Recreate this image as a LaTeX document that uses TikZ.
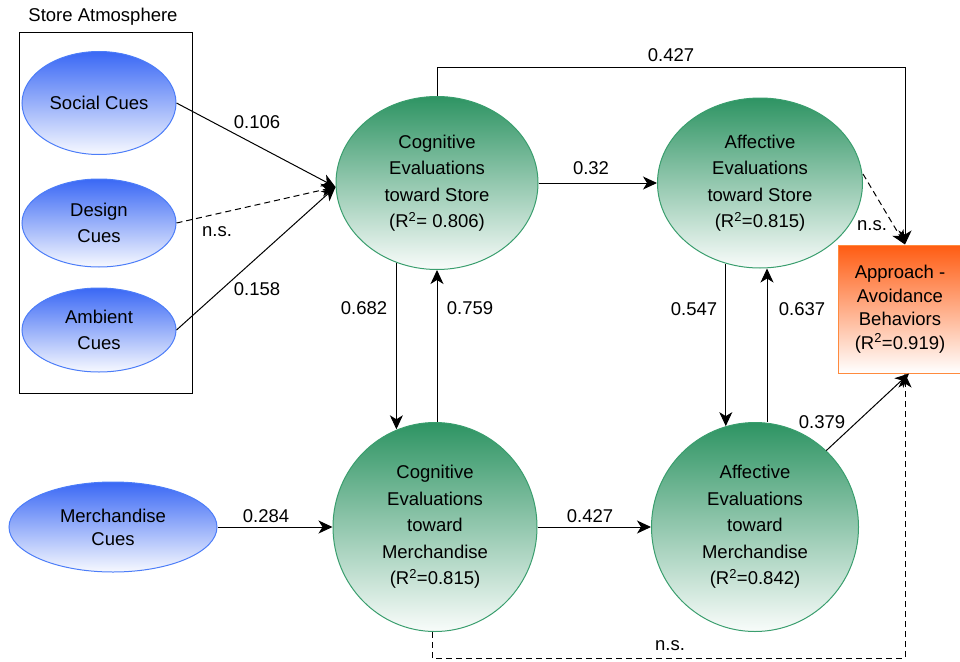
\documentclass[tikz,border=0pt]{standalone}
\usepackage{fontspec}
\setmainfont{Liberation Sans}
\usepackage{tikz}
\usetikzlibrary{positioning,shapes.geometric,arrows.meta}
\definecolor{CueBlue}{HTML}{3A68F5}
\definecolor{CueEdge}{HTML}{4C7DF8}
\definecolor{EvalGreen}{HTML}{2E9463}
\definecolor{EvalEdge}{HTML}{3A9E6E}
\definecolor{OutOrange}{HTML}{FF5C12}
\definecolor{OutEdge}{HTML}{FF8A3D}

\begin{document}
\begin{tikzpicture}[
  x=1pt,y=-1pt,
  txt/.style={font=\fontsize{18.5}{26.5}\selectfont,align=center,inner sep=0pt},
  cue/.style={txt,ellipse,draw=CueEdge,line width=1pt,top color=CueBlue,bottom color=CueBlue!4},
  eval/.style={txt,ellipse,draw=EvalEdge,line width=1pt,top color=EvalGreen,bottom color=EvalGreen!3},
  outcome/.style={txt,rectangle,draw=OutEdge,line width=1pt,top color=OutOrange,bottom color=white,
    font=\fontsize{18.5}{23.5}\selectfont},
  grp/.style={draw=black,line width=1pt,inner sep=0pt},
  lbl/.style={font=\fontsize{18.5}{22}\selectfont,inner sep=0pt},
  arr/.style={-{Stealth[length=14pt,width=13pt,inset=4pt]},line width=1pt},
  dasharr/.style={arr,dash pattern=on 6pt off 4pt}
]
  \useasboundingbox (0,0) rectangle (960,661);
  % store atmosphere group
  \node[grp,minimum width=173pt,minimum height=360pt] (atmos) at (105.5,213) {};
  \node[lbl] (atmostitle) at (103,17) {Store Atmosphere};
  \node[cue,minimum width=154pt,minimum height=103pt] (social) at (99,103) {Social Cues};
  \node[cue,minimum width=154pt,minimum height=88pt] (design) at (99,223) {Design\\Cues};
  \node[cue,minimum width=154pt,minimum height=84pt] (ambient) at (99,330) {Ambient\\Cues};
  \node[cue,minimum width=208pt,minimum height=90pt,font=\fontsize{18.5}{23}\selectfont] (merch) at (113,527) {Merchandise\\Cues};
  % evaluations
  \node[eval,minimum width=202pt,minimum height=173pt] (cs) at (437,183) {Cognitive\\Evaluations\\toward Store\\(R\textsuperscript{2}= 0.806)};
  \node[eval,minimum width=205pt,minimum height=170pt] (as) at (760,183) {Affective\\Evaluations\\toward Store\\(R\textsuperscript{2}=0.815)};
  \node[eval,minimum width=204pt,minimum height=209pt] (cm) at (435,527) {Cognitive\\Evaluations\\toward\\Merchandise\\(R\textsuperscript{2}=0.815)};
  \node[eval,minimum width=207pt,minimum height=209pt] (am) at (755,527) {Affective\\Evaluations\\toward\\Merchandise\\(R\textsuperscript{2}=0.842)};
  \node[outcome,minimum width=124pt,minimum height=128pt] (aab) at (900,309) {Approach -\\Avoidance\\Behaviors\\(R\textsuperscript{2}=0.919)};
  % paths
  \draw[arr] (social.east) -- ([yshift=-4pt]cs.west);
  \draw[dasharr] (design.east) -- ([yshift=-4pt]cs.west);
  \draw[arr] (ambient.east) -- ([yshift=-4pt]cs.west);
  \draw[arr] (cs.north) -- ++(0,-29) -| ([xshift=5pt]aab.north);
  \draw[arr] (cs.east) -- (as.west);
  \draw[dasharr] ([yshift=9pt]as.east) -- ([xshift=5pt]aab.north);
  \draw[arr] (cs.243) -- (cs.243 |- cm.111);
  \draw[arr] ([xshift=2pt]cm.north) -- ([xshift=2pt]cm.north |- cs.south);
  \draw[arr] (as.247) -- (as.247 |- am.106);
  \draw[arr] ([xshift=12pt]am.north) -- ([xshift=12pt]am.north |- as.south);
  \draw[arr] (merch.east) -- (cm.west);
  \draw[arr] (cm.east) -- (am.west);
  \draw[arr] (am.47) -- ([xshift=9pt]aab.south);
  \draw[dasharr] ([xshift=-3pt]cm.south) -- ++(0,26) -| ([xshift=5pt]aab.south);
  % path labels
  \node[lbl] (l106) at (257,122) {0.106};
  \node[lbl] (lns1) at (217,232) {n.s.};
  \node[lbl] (l158) at (257,289) {0.158};
  \node[lbl] (l427a) at (671,55) {0.427};
  \node[lbl] (l32) at (591,168) {0.32};
  \node[lbl] (lns2) at (872,226) {n.s.};
  \node[lbl] (l682) at (364,308) {0.682};
  \node[lbl] (l759) at (470,308) {0.759};
  \node[lbl] (l547) at (694,309) {0.547};
  \node[lbl] (l637) at (802,309) {0.637};
  \node[lbl] (l284) at (266,516) {0.284};
  \node[lbl] (l427b) at (590,516) {0.427};
  \node[lbl] (l379) at (822,422) {0.379};
  \node[lbl] (lns3) at (670,646) {n.s.};
\end{tikzpicture}
\end{document}
